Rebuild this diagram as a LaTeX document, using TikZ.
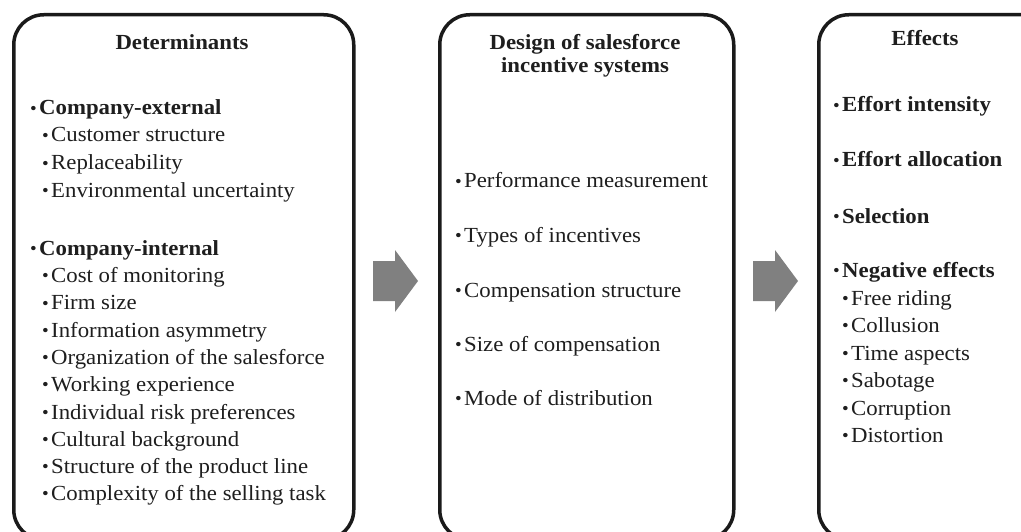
\documentclass[tikz,border=0pt]{standalone}
\usepackage{fontspec}
\setmainfont{Liberation Serif}[FakeStretch=1.06]
\definecolor{txt}{HTML}{1E1E1E}
\definecolor{edge}{HTML}{1A1A1A}
\definecolor{arr}{HTML}{808080}
\tikzset{
  panel/.style={draw=edge, line width=3.5pt, rounded corners=30pt, anchor=north west, inner sep=0pt},
  item/.style={anchor=base west, inner sep=0pt, text=txt, font=\fontsize{21.5}{24}\selectfont},
  bolditem/.style={item, font=\fontsize{21.5}{24}\selectfont\bfseries},
  head/.style={anchor=base, inner sep=0pt, text=txt, font=\fontsize{21.5}{24}\selectfont\bfseries},
  blockarrow/.style={fill=arr, draw=none},
}
\newcommand{\bul}{\makebox[9pt][l]{\raisebox{0.5pt}{\fontsize{18}{18}\selectfont\mdseries •}}}
\begin{document}
\begin{tikzpicture}[x=1pt, y=-1pt]
\useasboundingbox (0,0) rectangle (1021,532);
\fill[white] (0,0) rectangle (1021,532);
\clip (0,0) rectangle (1021,532);
% panels
\node[panel, minimum width=340pt, minimum height=525pt] (det) at (12,13) {};
\node[panel, minimum width=294pt, minimum height=525pt] (des) at (438,13) {};
\node[panel, minimum width=260pt, minimum height=525pt] (eff) at (817,13) {};
% arrows
\coordinate (a1) at (373,281);
\coordinate (a2) at (753,281);
\foreach \c in {a1,a2}
  \fill[blockarrow] (\c) ++(0,-20) -- ++(22,0) -- ++(0,-11) -- ++(23,31) -- ++(-23,31) -- ++(0,-11) -- ++(-22,0) -- cycle;
% headings
\node[head] (h1) at (182,50) {Determinants};
\node[head] (h2a) at (585,50) {Design of salesforce};
\node[head] (h2b) at (585,73) {incentive systems};
\node[head] (h3) at (925,46) {Effects};
% left list
\node[bolditem] (ce) at (30,115) {\bul Company-external};
\foreach \t/\y [count=\k] in {Customer structure/142, Replaceability/170, Environmental uncertainty/197}
  \node[item] (ce\k) at (42,\y) {\bul\t};
\node[bolditem] (ci) at (30,255) {\bul Company-internal};
\foreach \t/\y [count=\k] in {Cost of monitoring/282, Firm size/309.5, Information asymmetry/337, Organization of the salesforce/364, Working experience/391, Individual risk preferences/419, Cultural background/446, Structure of the product line/473, Complexity of the selling task/500}
  \node[item] (ci\k) at (42,\y) {\bul\t};
% middle list
\foreach \t/\y [count=\k] in {Performance measurement/188, Types of incentives/242, Compensation structure/297, Size of compensation/351, Mode of distribution/405}
  \node[item] (m\k) at (455,\y) {\bul\t};
% right list
\foreach \t/\y [count=\k] in {Effort intensity/112, Effort allocation/167, Selection/223, Negative effects/277}
  \node[bolditem] (r\k) at (833,\y) {\bul\t};
\foreach \t/\y [count=\k] in {Free riding/305, Collusion/332, Time aspects/360, Sabotage/387, Corruption/415, Distortion/442}
  \node[item] (n\k) at (842,\y) {\bul\t};
\end{tikzpicture}
\end{document}
